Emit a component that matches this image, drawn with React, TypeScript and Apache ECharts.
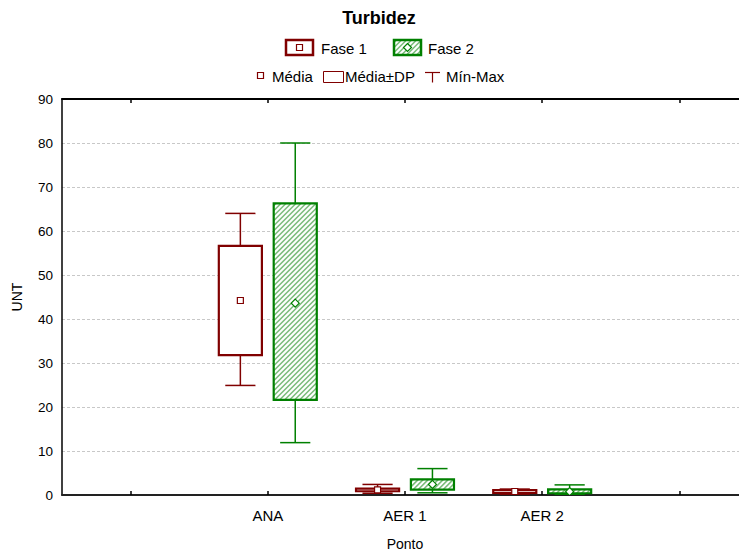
import React, { useEffect, useRef } from "react";
import * as echarts from "echarts";

const categories = ["ANA", "AER 1", "AER 2"];
const yTicks = [0, 10, 20, 30, 40, 50, 60, 70, 80, 90];

// Fase 1: min, mean-SD, mean, mean+SD, max
const fase1Min = [24.9, 0.4, 0.2];
const fase1Lower = [31.8, 0.85, 0.45];
const fase1Mean = [44.2, 1.15, 0.8];
const fase1Upper = [56.6, 1.45, 1.1];
const fase1Max = [64.0, 2.4, 1.35];

// Fase 2
const fase2Min = [11.9, 0.5, 0.1];
const fase2Lower = [21.6, 1.2, 0.4];
const fase2Mean = [43.6, 2.4, 0.75];
const fase2Upper = [66.3, 3.55, 1.3];
const fase2Max = [80.0, 6.0, 2.3];

const RED = "#800000";
const GREEN = "#008000";
const HATCH = "#7cbc7c";
const FONT = "Liberation Sans, Arial, sans-serif";

function hatchLines(x0: number, y0: number, w: number, h: number, step: number) {
  const out: any[] = [];
  const cStart = x0 + y0;
  const cEnd = x0 + w + y0 + h;
  for (let c = cStart + step / 2; c < cEnd; c += step) {
    const xa = Math.max(x0, c - (y0 + h));
    const xb = Math.min(x0 + w, c - y0);
    if (xb <= xa) continue;
    out.push({
      type: "line",
      shape: { x1: xa, y1: c - xa, x2: xb, y2: c - xb },
      style: { stroke: HATCH, lineWidth: 1.6 },
      silent: true,
    });
  }
  return out;
}

function makeRenderer(offset: number, color: string, hatched: boolean, marker: "square" | "diamond") {
  return (params: any, api: any) => {
    const ci = api.value(0);
    const vMin = api.value(1);
    const lo = api.value(2);
    const mean = api.value(3);
    const hi = api.value(4);
    const vMax = api.value(5);
    const band = api.size([1, 0])[0];
    const cx = api.coord([ci, 0])[0] + offset * band;
    const Y = (v: number) => api.coord([ci, v])[1];
    const bw = band * 0.314;
    const cw = band * 0.22;
    const yMin = Y(vMin), yLo = Y(lo), yMean = Y(mean), yHi = Y(hi), yMax = Y(vMax);
    const children: any[] = [];
    const wStyle = { stroke: color, lineWidth: 1.5 };
    children.push({ type: "line", shape: { x1: cx, y1: yMax, x2: cx, y2: yMin }, style: wStyle });
    children.push({ type: "line", shape: { x1: cx - cw / 2, y1: yMax, x2: cx + cw / 2, y2: yMax }, style: wStyle });
    children.push({ type: "line", shape: { x1: cx - cw / 2, y1: yMin, x2: cx + cw / 2, y2: yMin }, style: wStyle });
    const bx = cx - bw / 2;
    const bh = yLo - yHi;
    children.push({ type: "rect", shape: { x: bx, y: yHi, width: bw, height: bh }, style: { fill: "#ffffff", stroke: "none" } });
    if (hatched) {
      hatchLines(bx, yHi, bw, bh, 5).forEach((l) => children.push(l));
    }
    children.push({ type: "rect", shape: { x: bx, y: yHi, width: bw, height: bh }, style: { fill: "none", stroke: color, lineWidth: 2.2 } });
    if (marker === "square") {
      children.push({ type: "rect", shape: { x: cx - 3, y: yMean - 3, width: 6, height: 6 }, style: { fill: "#ffffff", stroke: color, lineWidth: 1.2 } });
    } else {
      children.push({
        type: "polygon",
        shape: { points: [[cx, yMean - 4], [cx + 4, yMean], [cx, yMean + 4], [cx - 4, yMean]] },
        style: { fill: "#ffffff", stroke: color, lineWidth: 1.2 },
      });
    }
    return { type: "group", children };
  };
}

export default function App() {
  const ref = useRef<HTMLDivElement>(null);
  useEffect(() => {
    if (!ref.current) return;
    const chart = echarts.init(ref.current, null, { renderer: "svg" });
    const axisCats = ["", ...categories, " "];
    const d1 = categories.map((_, i) => [i + 1, fase1Min[i], fase1Lower[i], fase1Mean[i], fase1Upper[i], fase1Max[i]]);
    const d2 = categories.map((_, i) => [i + 1, fase2Min[i], fase2Lower[i], fase2Mean[i], fase2Upper[i], fase2Max[i]]);

    const legendGraphics: any[] = [
      { type: "text", x: 379, y: 18, style: { text: "Turbidez", font: `bold 18px ${FONT}`, fill: "#000", align: "center", verticalAlign: "middle" } },
      // row 1
      { type: "rect", shape: { x: 286, y: 40, width: 27, height: 15 }, style: { fill: "#fff", stroke: RED, lineWidth: 2.5 } },
      { type: "rect", shape: { x: 296.5, y: 44.5, width: 6, height: 6 }, style: { fill: "#fff", stroke: RED, lineWidth: 1.2 } },
      { type: "text", x: 321, y: 48, style: { text: "Fase 1", font: `15px ${FONT}`, fill: "#000", verticalAlign: "middle" } },
      { type: "rect", shape: { x: 394, y: 40, width: 27, height: 15 }, style: { fill: "#fff", stroke: "none" } },
      ...hatchLines(394, 40, 27, 15, 5),
      { type: "rect", shape: { x: 394, y: 40, width: 27, height: 15 }, style: { fill: "none", stroke: GREEN, lineWidth: 2.5 } },
      { type: "polygon", shape: { points: [[407.5, 43.5], [411.5, 47.5], [407.5, 51.5], [403.5, 47.5]] }, style: { fill: "#fff", stroke: GREEN, lineWidth: 1.2 } },
      { type: "text", x: 428, y: 48, style: { text: "Fase 2", font: `15px ${FONT}`, fill: "#000", verticalAlign: "middle" } },
      // row 2
      { type: "rect", shape: { x: 257.5, y: 72.5, width: 6, height: 6 }, style: { fill: "#fff", stroke: RED, lineWidth: 1.2 } },
      { type: "text", x: 272, y: 76, style: { text: "Média", font: `15px ${FONT}`, fill: "#000", verticalAlign: "middle" } },
      { type: "rect", shape: { x: 323.5, y: 71.5, width: 20, height: 11 }, style: { fill: "none", stroke: RED, lineWidth: 1 } },
      { type: "text", x: 345, y: 76, style: { text: "Média±DP", font: `15px ${FONT}`, fill: "#000", verticalAlign: "middle" } },
      { type: "line", shape: { x1: 425, y1: 72.5, x2: 440, y2: 72.5 }, style: { stroke: RED, lineWidth: 1.2 } },
      { type: "line", shape: { x1: 432.5, y1: 72.5, x2: 432.5, y2: 82.5 }, style: { stroke: RED, lineWidth: 1.2 } },
      { type: "text", x: 446, y: 76, style: { text: "Mín-Max", font: `15px ${FONT}`, fill: "#000", verticalAlign: "middle" } },
    ];

    chart.setOption({
      animation: false,
      backgroundColor: "#ffffff",
      textStyle: { fontFamily: FONT },
      grid: { left: 62, width: 686, top: 99, bottom: 56, containLabel: false, outerBoundsMode: "none" },
      xAxis: [
        {
          type: "category",
          data: axisCats,
          boundaryGap: true,
          position: "bottom",
          name: "Ponto",
          nameLocation: "middle",
          nameGap: 42,
          nameTextStyle: { fontSize: 14, color: "#000", fontFamily: FONT },
          axisLine: { show: true, lineStyle: { color: "#222", width: 2 } },
          axisTick: { show: true, inside: true, alignWithLabel: true, length: 4, lineStyle: { color: "#000", width: 1.5 } },
          axisLabel: { show: true, fontSize: 15, color: "#000", margin: 13, fontFamily: FONT, interval: 0 },
          splitLine: { show: false },
        },
        {
          type: "category",
          data: axisCats,
          boundaryGap: true,
          position: "top",
          axisLine: { show: true, lineStyle: { color: "#000", width: 2 } },
          axisTick: { show: true, inside: true, alignWithLabel: true, length: 4, lineStyle: { color: "#000", width: 1.5 } },
          axisLabel: { show: false },
          splitLine: { show: false },
        },
      ],
      yAxis: {
        type: "value",
        min: yTicks[0],
        max: yTicks[yTicks.length - 1],
        interval: 10,
        name: "UNT",
        nameLocation: "middle",
        nameGap: 38,
        nameTextStyle: { fontSize: 14, color: "#000", fontFamily: FONT },
        axisLine: { show: true, lineStyle: { color: "#000", width: 1.5 } },
        axisTick: { show: false },
        axisLabel: { fontSize: 13.5, color: "#000", margin: 9, fontFamily: FONT },
        splitLine: { show: true, lineStyle: { color: "#c8c8c8", width: 1, type: [3, 2] } },
      },
      graphic: legendGraphics,
      series: [
        {
          type: "custom",
          name: "Fase 1",
          xAxisIndex: 0,
          renderItem: makeRenderer(-0.2, RED, false, "square"),
          data: d1,
          encode: { x: 0, y: [1, 2, 3, 4, 5] },
          clip: true,
          z: 3,
        },
        {
          type: "custom",
          name: "Fase 2",
          xAxisIndex: 0,
          renderItem: makeRenderer(0.2, GREEN, true, "diamond"),
          data: d2,
          encode: { x: 0, y: [1, 2, 3, 4, 5] },
          clip: true,
          z: 3,
        },
      ],
    });
    return () => chart.dispose();
  }, []);
  return <div ref={ref} style={{ position: "absolute", left: 0, top: 0, width: 739, height: 551 }} />;
}
